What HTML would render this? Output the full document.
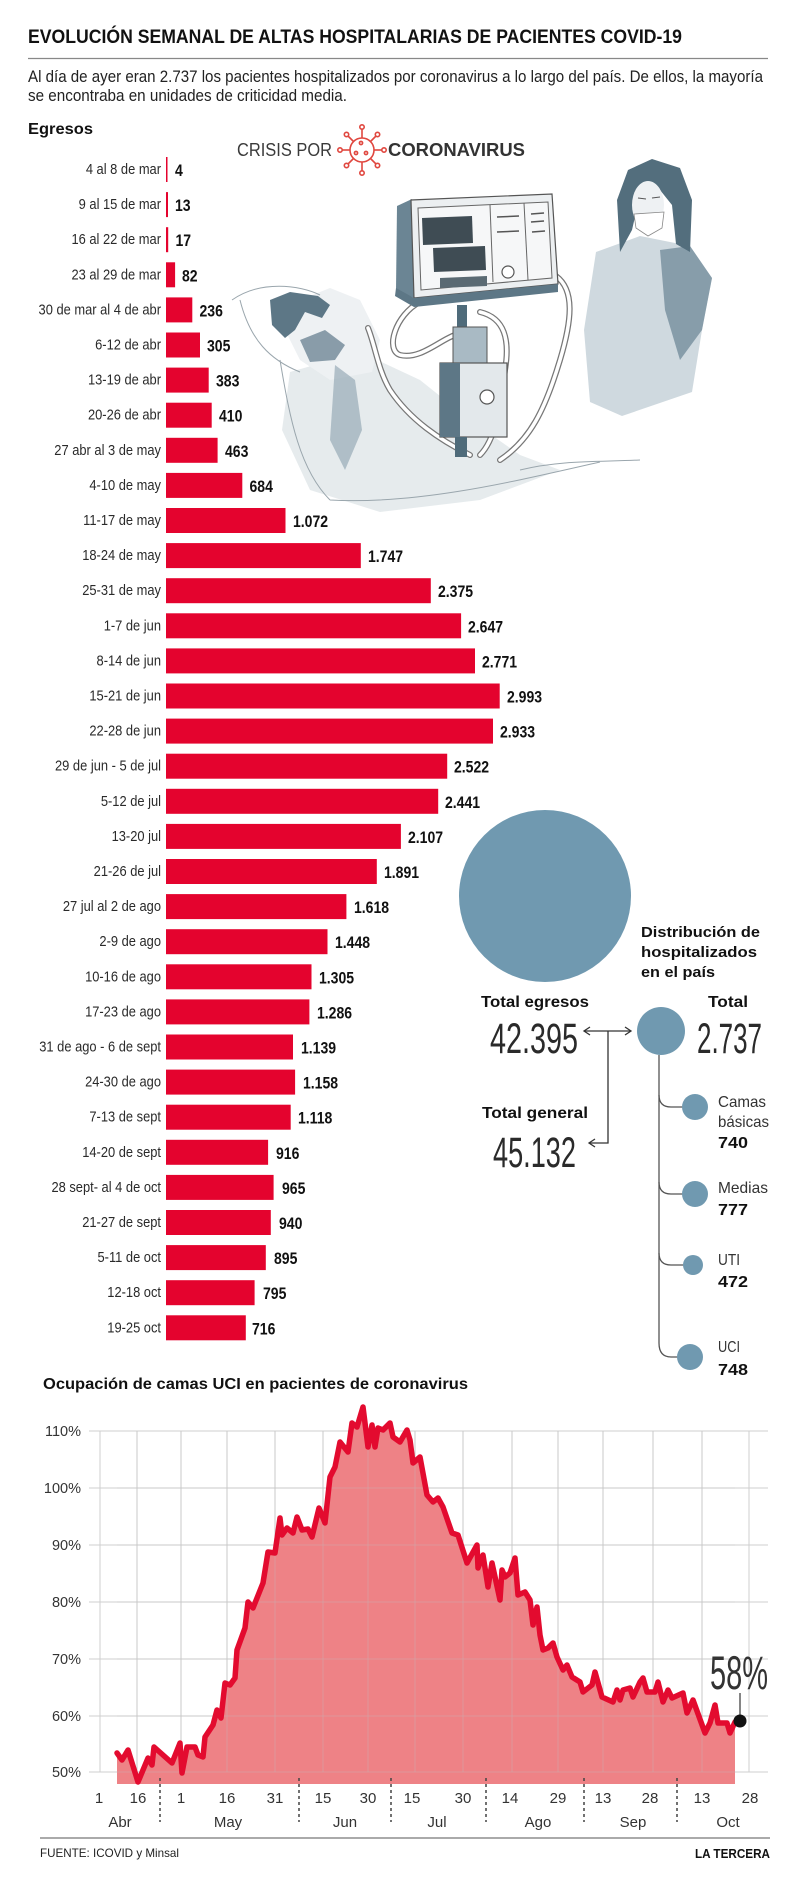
<!DOCTYPE html>
<html>
<head>
<meta charset="utf-8">
<style>
html,body{margin:0;padding:0;background:#fff;}
svg{display:block;}
text{font-family:"Liberation Sans",Arial,sans-serif;}
</style>
</head>
<body>
<svg width="800" height="1893" viewBox="0 0 800 1893" xmlns="http://www.w3.org/2000/svg">
<rect width="800" height="1893" fill="#fff"/>

<!-- Header -->
<text x="28" y="43" font-size="19" font-weight="bold" fill="#111" textLength="654" lengthAdjust="spacingAndGlyphs">EVOLUCIÓN SEMANAL DE ALTAS HOSPITALARIAS DE PACIENTES COVID-19</text>
<line x1="28" y1="58.5" x2="768" y2="58.5" stroke="#888" stroke-width="1.2"/>
<text x="28" y="82" font-size="17" fill="#222" textLength="735" lengthAdjust="spacingAndGlyphs">Al día de ayer eran 2.737 los pacientes hospitalizados por coronavirus a lo largo del país. De ellos, la mayoría</text>
<text x="28" y="101" font-size="17" fill="#222" textLength="319" lengthAdjust="spacingAndGlyphs">se encontraba en unidades de criticidad media.</text>
<text x="28" y="134" font-size="16" font-weight="bold" fill="#111" textLength="65" lengthAdjust="spacingAndGlyphs">Egresos</text>

<!-- Crisis por coronavirus logo -->
<text x="237" y="156" font-size="18" fill="#3a3a3a" textLength="95" lengthAdjust="spacingAndGlyphs">CRISIS POR</text>
<g fill="none" stroke="#e0473f" stroke-width="1.6">
  <circle cx="362" cy="150" r="12"/>
  <line x1="362" y1="138" x2="362" y2="129"/><circle cx="362" cy="127" r="2.2"/>
  <line x1="362" y1="162" x2="362" y2="171"/><circle cx="362" cy="173" r="2.2"/>
  <line x1="350" y1="150" x2="342" y2="150"/><circle cx="340" cy="150" r="2.2"/>
  <line x1="374" y1="150" x2="382" y2="150"/><circle cx="384" cy="150" r="2.2"/>
  <line x1="353.5" y1="141.5" x2="348" y2="136"/><circle cx="346.5" cy="134.5" r="2.2"/>
  <line x1="370.5" y1="141.5" x2="376" y2="136"/><circle cx="377.5" cy="134.5" r="2.2"/>
  <line x1="353.5" y1="158.5" x2="348" y2="164"/><circle cx="346.5" cy="165.5" r="2.2"/>
  <line x1="370.5" y1="158.5" x2="376" y2="164"/><circle cx="377.5" cy="165.5" r="2.2"/>
  <circle cx="361" cy="143" r="1.6"/><circle cx="356" cy="153" r="1.6"/><circle cx="366" cy="153" r="1.6"/>
</g>
<text x="388" y="156" font-size="18" font-weight="bold" fill="#333" textLength="137" lengthAdjust="spacingAndGlyphs">CORONAVIRUS</text>

<!-- Illustration (approximate) -->
<g>
  <!-- patient body wash -->
  <polygon points="290,372 360,352 420,380 470,420 520,455 560,470 480,500 380,512 310,490 282,430" fill="#dbe2e6" opacity="0.7"/>
  <polygon points="300,300 330,288 360,300 380,340 372,372 330,380 300,360 285,330" fill="#eef1f3"/>
  <path d="M232,300 C260,280 300,285 320,295 M240,300 C250,340 270,360 300,372 M280,360 C290,420 300,470 330,500 M330,500 C420,505 520,480 600,462 M520,470 C560,460 600,462 640,460" fill="none" stroke="#9aa6ad" stroke-width="1"/>
  <!-- patient hair -->
  <polygon points="270,300 290,292 318,296 330,305 322,318 305,312 295,330 285,338 272,325" fill="#5d7786"/>
  <polygon points="300,340 325,330 345,345 335,360 310,362" fill="#6f8796" opacity="0.8"/>
  <polygon points="335,365 355,380 362,430 345,470 330,440" fill="#8aa0ad" opacity="0.6"/>
  <!-- tubes -->
  <g fill="none" stroke-linecap="round">
    <path d="M420,302 C395,315 385,350 400,355 C420,360 440,340 455,335" stroke="#777" stroke-width="6"/>
    <path d="M420,302 C395,315 385,350 400,355 C420,360 440,340 455,335" stroke="#fff" stroke-width="3.5"/>
    <path d="M556,276 C575,290 572,320 560,360 C545,410 530,440 500,460" stroke="#777" stroke-width="6"/>
    <path d="M556,276 C575,290 572,320 560,360 C545,410 530,440 500,460" stroke="#fff" stroke-width="3.5"/>
    <path d="M480,312 C505,318 510,340 505,370 C500,410 495,440 480,455" stroke="#777" stroke-width="6"/>
    <path d="M480,312 C505,318 510,340 505,370 C500,410 495,440 480,455" stroke="#fff" stroke-width="3.5"/>
    <path d="M368,328 C375,345 378,370 390,390 C410,420 440,440 470,455" stroke="#777" stroke-width="6"/>
    <path d="M368,328 C375,345 378,370 390,390 C410,420 440,440 470,455" stroke="#fff" stroke-width="3.5"/>
  </g>
  <!-- monitor -->
  <polygon points="397,206 412,199 414,298 396,290" fill="#6b8594"/>
  <polygon points="411,200 552,194 558,284 414,298" fill="#eceff1" stroke="#555" stroke-width="1.2"/>
  <polygon points="418,208 548,202 552,278 421,290" fill="#f6f7f8" stroke="#666" stroke-width="1"/>
  <polygon points="422,218 472,216 473,243 423,245" fill="#3f4c54"/>
  <polygon points="433,248 485,246 486,270 434,272" fill="#3f4c54"/>
  <polygon points="440,278 487,276 487,286 440,288" fill="#5a6a73"/>
  <line x1="490" y1="205" x2="493" y2="282" stroke="#666" stroke-width="1"/>
  <line x1="524" y1="203" x2="528" y2="280" stroke="#666" stroke-width="1"/>
  <g stroke="#555" stroke-width="1.5"><line x1="497" y1="217" x2="519" y2="216"/><line x1="497" y1="232" x2="519" y2="231"/><line x1="531" y1="214" x2="544" y2="213"/><line x1="531" y1="222" x2="544" y2="221"/><line x1="532" y1="232" x2="545" y2="231"/></g>
  <circle cx="508" cy="272" r="6" fill="#fff" stroke="#555" stroke-width="1.2"/>
  <polygon points="396,288 414,298 558,284 558,292 414,307 395,296" fill="#5d7786"/>
  <!-- stand & humidifier -->
  <rect x="457" y="305" width="10" height="24" fill="#4f6b7a"/>
  <rect x="453" y="327" width="34" height="38" fill="#a9bac4" stroke="#555" stroke-width="1"/>
  <rect x="440" y="363" width="67" height="74" fill="#e3e8eb" stroke="#555" stroke-width="1.2"/>
  <rect x="440" y="363" width="20" height="74" fill="#5d7786"/>
  <circle cx="487" cy="397" r="7" fill="#fff" stroke="#555" stroke-width="1.2"/>
  <rect x="455" y="437" width="12" height="20" fill="#4f6b7a"/>
  <!-- nurse -->
  <polygon points="596,252 640,236 690,246 712,278 702,330 692,392 622,416 590,402 584,330" fill="#c3d0d7" opacity="0.8"/>
  <polygon points="660,250 690,246 712,278 702,330 680,360 665,310" fill="#6f8898" opacity="0.75"/>
  <polygon points="620,252 617,200 628,170 652,159 680,168 692,200 690,252 676,244 672,205 660,190 640,195 632,230" fill="#536e7d"/>
  <ellipse cx="648" cy="205" rx="16" ry="24" fill="#eef1f3"/>
  <path d="M634,214 L664,212 L662,228 L648,236 L636,228 Z" fill="#fff" stroke="#888" stroke-width="0.8"/>
  <path d="M638,198 L646,199 M652,198 L660,197" stroke="#555" stroke-width="1"/>
</g>

<!-- Bars -->
<g fill="#e4032e">
  <rect x="166" y="157" width="1.5" height="25"/>
  <rect x="166" y="192.1" width="2" height="25"/>
  <rect x="166" y="227.2" width="2.2" height="25"/>
  <rect x="166" y="262.3" width="9.1" height="25"/>
  <rect x="166" y="297.4" width="26.3" height="25"/>
  <rect x="166" y="332.5" width="34" height="25"/>
  <rect x="166" y="367.6" width="42.7" height="25"/>
  <rect x="166" y="402.7" width="45.7" height="25"/>
  <rect x="166" y="437.8" width="51.6" height="25"/>
  <rect x="166" y="472.9" width="76.3" height="25"/>
  <rect x="166" y="508" width="119.5" height="25"/>
  <rect x="166" y="543.1" width="194.8" height="25"/>
  <rect x="166" y="578.2" width="264.8" height="25"/>
  <rect x="166" y="613.3" width="295.1" height="25"/>
  <rect x="166" y="648.4" width="309" height="25"/>
  <rect x="166" y="683.5" width="333.7" height="25"/>
  <rect x="166" y="718.6" width="327" height="25"/>
  <rect x="166" y="753.7" width="281.2" height="25"/>
  <rect x="166" y="788.8" width="272.2" height="25"/>
  <rect x="166" y="823.9" width="234.9" height="25"/>
  <rect x="166" y="859" width="210.8" height="25"/>
  <rect x="166" y="894.1" width="180.4" height="25"/>
  <rect x="166" y="929.2" width="161.5" height="25"/>
  <rect x="166" y="964.3" width="145.5" height="25"/>
  <rect x="166" y="999.4" width="143.4" height="25"/>
  <rect x="166" y="1034.5" width="127" height="25"/>
  <rect x="166" y="1069.6" width="129.1" height="25"/>
  <rect x="166" y="1104.7" width="124.7" height="25"/>
  <rect x="166" y="1139.8" width="102.1" height="25"/>
  <rect x="166" y="1174.9" width="107.6" height="25"/>
  <rect x="166" y="1210" width="104.8" height="25"/>
  <rect x="166" y="1245.1" width="99.8" height="25"/>
  <rect x="166" y="1280.2" width="88.6" height="25"/>
  <rect x="166" y="1315.3" width="79.8" height="25"/>
</g>

<!-- Bar labels -->
<g transform="translate(161 0) scale(0.86 1)" text-anchor="end" font-size="15" fill="#2a2a2a">
  <text x="0" y="174">4 al 8 de mar</text>
  <text x="0" y="209.1">9 al 15 de mar</text>
  <text x="0" y="244.2">16 al 22 de mar</text>
  <text x="0" y="279.3">23 al 29 de mar</text>
  <text x="0" y="314.4">30 de mar al 4 de abr</text>
  <text x="0" y="349.5">6-12 de abr</text>
  <text x="0" y="384.6">13-19 de abr</text>
  <text x="0" y="419.7">20-26 de abr</text>
  <text x="0" y="454.8">27 abr al 3 de may</text>
  <text x="0" y="489.9">4-10 de may</text>
  <text x="0" y="525">11-17 de may</text>
  <text x="0" y="560.1">18-24 de may</text>
  <text x="0" y="595.2">25-31 de may</text>
  <text x="0" y="630.3">1-7 de jun</text>
  <text x="0" y="665.4">8-14 de jun</text>
  <text x="0" y="700.5">15-21 de jun</text>
  <text x="0" y="735.6">22-28 de jun</text>
  <text x="0" y="770.7">29 de jun - 5 de jul</text>
  <text x="0" y="805.8">5-12 de jul</text>
  <text x="0" y="840.9">13-20 jul</text>
  <text x="0" y="876">21-26 de jul</text>
  <text x="0" y="911.1">27 jul al 2 de ago</text>
  <text x="0" y="946.2">2-9 de ago</text>
  <text x="0" y="981.3">10-16 de ago</text>
  <text x="0" y="1016.4">17-23 de ago</text>
  <text x="0" y="1051.5">31 de ago - 6 de sept</text>
  <text x="0" y="1086.6">24-30 de ago</text>
  <text x="0" y="1121.7">7-13 de sept</text>
  <text x="0" y="1156.8">14-20 de sept</text>
  <text x="0" y="1191.9">28 sept- al 4 de oct</text>
  <text x="0" y="1227">21-27 de sept</text>
  <text x="0" y="1262.1">5-11 de oct</text>
  <text x="0" y="1297.2">12-18 oct</text>
  <text x="0" y="1332.3">19-25 oct</text>
</g>

<!-- Bar values -->
<g font-size="16.5" font-weight="bold" fill="#111">
  <text transform="translate(175 176) scale(0.85 1)">4</text>
  <text transform="translate(175 211.1) scale(0.85 1)">13</text>
  <text transform="translate(175.5 246.2) scale(0.85 1)">17</text>
  <text transform="translate(182 281.3) scale(0.85 1)">82</text>
  <text transform="translate(199.5 316.4) scale(0.85 1)">236</text>
  <text transform="translate(207 351.5) scale(0.85 1)">305</text>
  <text transform="translate(216 386.6) scale(0.85 1)">383</text>
  <text transform="translate(219 421.7) scale(0.85 1)">410</text>
  <text transform="translate(225 456.8) scale(0.85 1)">463</text>
  <text transform="translate(249.5 491.9) scale(0.85 1)">684</text>
  <text transform="translate(293 527) scale(0.85 1)">1.072</text>
  <text transform="translate(368 562.1) scale(0.85 1)">1.747</text>
  <text transform="translate(438 597.2) scale(0.85 1)">2.375</text>
  <text transform="translate(468 632.3) scale(0.85 1)">2.647</text>
  <text transform="translate(482 667.4) scale(0.85 1)">2.771</text>
  <text transform="translate(507 702.5) scale(0.85 1)">2.993</text>
  <text transform="translate(500 737.6) scale(0.85 1)">2.933</text>
  <text transform="translate(454 772.7) scale(0.85 1)">2.522</text>
  <text transform="translate(445 807.8) scale(0.85 1)">2.441</text>
  <text transform="translate(408 842.9) scale(0.85 1)">2.107</text>
  <text transform="translate(384 878) scale(0.85 1)">1.891</text>
  <text transform="translate(354 913.1) scale(0.85 1)">1.618</text>
  <text transform="translate(335 948.2) scale(0.85 1)">1.448</text>
  <text transform="translate(319 983.3) scale(0.85 1)">1.305</text>
  <text transform="translate(317 1018.4) scale(0.85 1)">1.286</text>
  <text transform="translate(301 1053.5) scale(0.85 1)">1.139</text>
  <text transform="translate(303 1088.6) scale(0.85 1)">1.158</text>
  <text transform="translate(298 1123.7) scale(0.85 1)">1.118</text>
  <text transform="translate(276 1158.8) scale(0.85 1)">916</text>
  <text transform="translate(282 1193.9) scale(0.85 1)">965</text>
  <text transform="translate(279 1229) scale(0.85 1)">940</text>
  <text transform="translate(274 1264.1) scale(0.85 1)">895</text>
  <text transform="translate(263 1299.2) scale(0.85 1)">795</text>
  <text transform="translate(252 1334.3) scale(0.85 1)">716</text>
</g>

<!-- Totals section -->
<circle cx="545" cy="896" r="86" fill="#7099b0"/>
<g font-weight="bold" font-size="15" fill="#111">
  <text x="641" y="937" textLength="119" lengthAdjust="spacingAndGlyphs">Distribución de</text>
  <text x="641" y="957" textLength="116" lengthAdjust="spacingAndGlyphs">hospitalizados</text>
  <text x="641" y="977" textLength="74" lengthAdjust="spacingAndGlyphs">en el país</text>
</g>
<text x="481" y="1007" font-size="16" font-weight="bold" fill="#111" textLength="108" lengthAdjust="spacingAndGlyphs">Total egresos</text>
<text x="708" y="1007" font-size="16" font-weight="bold" fill="#111" textLength="40" lengthAdjust="spacingAndGlyphs">Total</text>
<text x="490" y="1053" font-size="43" fill="#2a2a2a" textLength="88" lengthAdjust="spacingAndGlyphs">42.395</text>
<text x="697" y="1053" font-size="43" fill="#2a2a2a" textLength="65" lengthAdjust="spacingAndGlyphs">2.737</text>
<text x="482" y="1118" font-size="16" font-weight="bold" fill="#111" textLength="106" lengthAdjust="spacingAndGlyphs">Total general</text>
<text x="493" y="1167" font-size="43" fill="#2a2a2a" textLength="83" lengthAdjust="spacingAndGlyphs">45.132</text>

<g fill="none" stroke="#333" stroke-width="1.3">
  <line x1="584" y1="1031" x2="631" y2="1031"/>
  <polyline points="590,1027 584,1031 590,1035"/>
  <polyline points="625,1027 631,1031 625,1035"/>
  <polyline points="608,1031 608,1143 589,1143"/>
  <polyline points="595,1139 589,1143 595,1147"/>
</g>

<circle cx="661" cy="1031" r="24" fill="#7099b0"/>
<g fill="none" stroke="#555" stroke-width="1.3">
  <line x1="659" y1="1055" x2="659" y2="1343"/>
  <path d="M659,1095 Q659,1107 671,1107 L684,1107"/>
  <path d="M659,1182 Q659,1194 671,1194 L684,1194"/>
  <path d="M659,1253 Q659,1265 671,1265 L684,1265"/>
  <path d="M659,1343 Q659,1357 671,1357 L678,1357"/>
</g>
<g fill="#7099b0">
  <circle cx="695" cy="1107" r="13"/>
  <circle cx="695" cy="1194" r="13"/>
  <circle cx="693" cy="1265" r="10"/>
  <circle cx="690" cy="1357" r="13"/>
</g>
<g font-size="16" fill="#333">
  <text x="718" y="1107" textLength="48" lengthAdjust="spacingAndGlyphs">Camas</text>
  <text x="718" y="1127" textLength="51" lengthAdjust="spacingAndGlyphs">básicas</text>
  <text x="718" y="1193" textLength="50" lengthAdjust="spacingAndGlyphs">Medias</text>
  <text x="718" y="1265" textLength="22" lengthAdjust="spacingAndGlyphs">UTI</text>
  <text x="718" y="1352" textLength="22" lengthAdjust="spacingAndGlyphs">UCI</text>
</g>
<g font-size="16" font-weight="bold" fill="#111">
  <text x="718" y="1148" textLength="30" lengthAdjust="spacingAndGlyphs">740</text>
  <text x="718" y="1215" textLength="30" lengthAdjust="spacingAndGlyphs">777</text>
  <text x="718" y="1287" textLength="30" lengthAdjust="spacingAndGlyphs">472</text>
  <text x="718" y="1375" textLength="30" lengthAdjust="spacingAndGlyphs">748</text>
</g>

<!-- Line chart -->
<text x="43" y="1389" font-size="16" font-weight="bold" fill="#111" textLength="425" lengthAdjust="spacingAndGlyphs">Ocupación de camas UCI en pacientes de coronavirus</text>

<g stroke="#cfcfcf" stroke-width="1">
  <line x1="89" y1="1431" x2="768" y2="1431"/>
  <line x1="89" y1="1488" x2="768" y2="1488"/>
  <line x1="89" y1="1545" x2="768" y2="1545"/>
  <line x1="89" y1="1602" x2="768" y2="1602"/>
  <line x1="89" y1="1659" x2="768" y2="1659"/>
  <line x1="89" y1="1716" x2="768" y2="1716"/>
  <line x1="89" y1="1772" x2="768" y2="1772"/>
  <line x1="100" y1="1431" x2="100" y2="1772"/>
  <line x1="137" y1="1431" x2="137" y2="1772"/>
  <line x1="181" y1="1431" x2="181" y2="1772"/>
  <line x1="227" y1="1431" x2="227" y2="1772"/>
  <line x1="275" y1="1431" x2="275" y2="1772"/>
  <line x1="323" y1="1431" x2="323" y2="1772"/>
  <line x1="368" y1="1431" x2="368" y2="1772"/>
  <line x1="415" y1="1431" x2="415" y2="1772"/>
  <line x1="463" y1="1431" x2="463" y2="1772"/>
  <line x1="512" y1="1431" x2="512" y2="1772"/>
  <line x1="558" y1="1431" x2="558" y2="1772"/>
  <line x1="603" y1="1431" x2="603" y2="1772"/>
  <line x1="653" y1="1431" x2="653" y2="1772"/>
  <line x1="702" y1="1431" x2="702" y2="1772"/>
  <line x1="749" y1="1431" x2="749" y2="1772"/>
</g>

<path fill="#ee8286" d="M117,1784 L117,1753 L122,1760 L128,1750 L138,1782 L148,1758 L152,1765 L154,1747 L172,1763 L180,1743 L182,1773 L187,1747 L195,1747 L198,1755 L203,1757 L205,1737 L213,1725 L217,1710 L221,1718 L225,1683 L230,1685 L235,1678 L237,1650 L245,1628 L248,1602 L253,1608 L263,1583 L268,1552 L275,1553 L280,1518 L282,1535 L287,1528 L293,1533 L297,1517 L302,1530 L308,1529 L312,1537 L319,1508 L325,1523 L330,1477 L335,1467 L340,1442 L348,1452 L352,1423 L357,1427 L363,1407 L368,1447 L372,1425 L375,1447 L378,1428 L383,1430 L390,1423 L393,1437 L400,1442 L407,1430 L410,1440 L413,1463 L420,1457 L427,1495 L433,1502 L438,1498 L443,1507 L452,1533 L458,1535 L467,1563 L477,1545 L478,1568 L483,1555 L488,1587 L492,1563 L500,1600 L502,1570 L505,1577 L510,1573 L515,1558 L518,1595 L525,1592 L530,1600 L533,1625 L537,1607 L540,1635 L543,1650 L548,1648 L553,1643 L557,1657 L563,1670 L567,1665 L572,1677 L580,1682 L583,1692 L592,1685 L595,1672 L602,1697 L613,1702 L617,1690 L620,1700 L623,1690 L630,1688 L633,1697 L640,1682 L643,1678 L647,1692 L655,1692 L658,1682 L663,1702 L668,1690 L672,1698 L683,1693 L687,1713 L693,1700 L705,1733 L710,1723 L715,1705 L718,1723 L727,1723 L730,1733 L735,1722 L735,1784 Z"/>

<g stroke="rgba(190,190,190,0.35)" stroke-width="1">
  <line x1="137" y1="1431" x2="137" y2="1772"/>
  <line x1="181" y1="1431" x2="181" y2="1772"/>
  <line x1="227" y1="1431" x2="227" y2="1772"/>
  <line x1="275" y1="1431" x2="275" y2="1772"/>
  <line x1="323" y1="1431" x2="323" y2="1772"/>
  <line x1="368" y1="1431" x2="368" y2="1772"/>
  <line x1="415" y1="1431" x2="415" y2="1772"/>
  <line x1="463" y1="1431" x2="463" y2="1772"/>
  <line x1="512" y1="1431" x2="512" y2="1772"/>
  <line x1="558" y1="1431" x2="558" y2="1772"/>
  <line x1="603" y1="1431" x2="603" y2="1772"/>
  <line x1="653" y1="1431" x2="653" y2="1772"/>
  <line x1="702" y1="1431" x2="702" y2="1772"/>
  <line x1="117" y1="1716" x2="735" y2="1716"/>
  <line x1="117" y1="1659" x2="735" y2="1659"/>
  <line x1="117" y1="1602" x2="735" y2="1602"/>
  <line x1="117" y1="1545" x2="735" y2="1545"/>
  <line x1="117" y1="1488" x2="735" y2="1488"/>
  <line x1="117" y1="1772" x2="735" y2="1772"/>
</g>

<polyline fill="none" stroke="#e30b2f" stroke-width="5.5" stroke-linejoin="round" stroke-linecap="round" points="117,1753 122,1760 128,1750 138,1782 148,1758 152,1765 154,1747 172,1763 180,1743 182,1773 187,1747 195,1747 198,1755 203,1757 205,1737 213,1725 217,1710 221,1718 225,1683 230,1685 235,1678 237,1650 245,1628 248,1602 253,1608 263,1583 268,1552 275,1553 280,1518 282,1535 287,1528 293,1533 297,1517 302,1530 308,1529 312,1537 319,1508 325,1523 330,1477 335,1467 340,1442 348,1452 352,1423 357,1427 363,1407 368,1447 372,1425 375,1447 378,1428 383,1430 390,1423 393,1437 400,1442 407,1430 410,1440 413,1463 420,1457 427,1495 433,1502 438,1498 443,1507 452,1533 458,1535 467,1563 477,1545 478,1568 483,1555 488,1587 492,1563 500,1600 502,1570 505,1577 510,1573 515,1558 518,1595 525,1592 530,1600 533,1625 537,1607 540,1635 543,1650 548,1648 553,1643 557,1657 563,1670 567,1665 572,1677 580,1682 583,1692 592,1685 595,1672 602,1697 613,1702 617,1690 620,1700 623,1690 630,1688 633,1697 640,1682 643,1678 647,1692 655,1692 658,1682 663,1702 668,1690 672,1698 683,1693 687,1713 693,1700 705,1733 710,1723 715,1705 718,1723 727,1723 730,1733 735,1722 740,1721"/>

<line x1="740" y1="1721" x2="740" y2="1693" stroke="#333" stroke-width="1.2"/>
<circle cx="740" cy="1721" r="6.5" fill="#111"/>
<text x="710" y="1689" font-size="47" fill="#333" textLength="58" lengthAdjust="spacingAndGlyphs">58%</text>

<!-- Y labels -->
<g font-size="14.5" fill="#333" text-anchor="end">
  <text x="81" y="1436">110%</text>
  <text x="81" y="1493">100%</text>
  <text x="81" y="1550">90%</text>
  <text x="81" y="1607">80%</text>
  <text x="81" y="1664">70%</text>
  <text x="81" y="1721">60%</text>
  <text x="81" y="1777">50%</text>
</g>

<!-- Separators -->
<g stroke="#444" stroke-width="1.5" stroke-dasharray="3,3">
  <line x1="160" y1="1778" x2="160" y2="1822"/>
  <line x1="299" y1="1778" x2="299" y2="1822"/>
  <line x1="391" y1="1778" x2="391" y2="1822"/>
  <line x1="486" y1="1778" x2="486" y2="1822"/>
  <line x1="584" y1="1778" x2="584" y2="1822"/>
  <line x1="677" y1="1778" x2="677" y2="1822"/>
</g>

<!-- X labels -->
<g font-size="15" fill="#333" text-anchor="middle">
  <text x="99" y="1803">1</text>
  <text x="138" y="1803">16</text>
  <text x="181" y="1803">1</text>
  <text x="227" y="1803">16</text>
  <text x="275" y="1803">31</text>
  <text x="323" y="1803">15</text>
  <text x="368" y="1803">30</text>
  <text x="412" y="1803">15</text>
  <text x="463" y="1803">30</text>
  <text x="510" y="1803">14</text>
  <text x="558" y="1803">29</text>
  <text x="603" y="1803">13</text>
  <text x="650" y="1803">28</text>
  <text x="702" y="1803">13</text>
  <text x="750" y="1803">28</text>
  <text x="120" y="1827">Abr</text>
  <text x="228" y="1827">May</text>
  <text x="345" y="1827">Jun</text>
  <text x="437" y="1827">Jul</text>
  <text x="538" y="1827">Ago</text>
  <text x="633" y="1827">Sep</text>
  <text x="728" y="1827">Oct</text>
</g>

<!-- Footer -->
<line x1="40" y1="1838" x2="770" y2="1838" stroke="#777" stroke-width="1.3"/>
<text x="40" y="1857" font-size="12" fill="#222" textLength="139" lengthAdjust="spacingAndGlyphs">FUENTE: ICOVID y Minsal</text>
<text x="695" y="1858" font-size="12.5" font-weight="bold" fill="#111" textLength="75" lengthAdjust="spacingAndGlyphs">LA TERCERA</text>
</svg>
</body>
</html>
